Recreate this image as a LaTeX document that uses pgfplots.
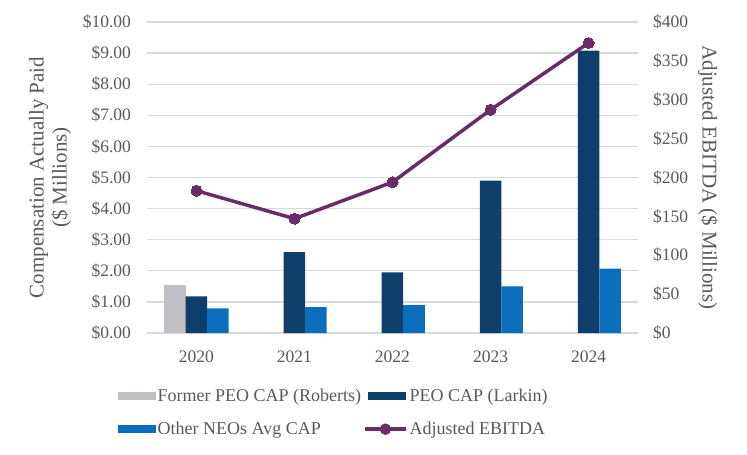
\documentclass[border=0pt]{standalone}
\usepackage{pgfplots}
\pgfplotsset{compat=1.18}
\usepackage{fontspec}
\setmainfont{Liberation Serif}
\definecolor{cgrey}{HTML}{BFBFC4}
\definecolor{cnavy}{HTML}{0E3F6A}
\definecolor{cblue}{HTML}{0A6EBD}
\definecolor{cpurple}{HTML}{6A2C68}
\definecolor{ctext}{HTML}{595959}
\definecolor{cgrid}{HTML}{D9D9D9}
\begin{document}
\begin{tikzpicture}
\path[use as bounding box] (-147.5pt,-122pt) rectangle (599.5pt,333pt);
\pgfplotsset{
  every axis/.append style={
    scale only axis, width=490pt, height=311pt,
    xmin=-0.5, xmax=4.5, at={(0pt,0pt)}, anchor=south west,
    /pgf/number format/assume math mode=true,
    tick label style={font=\rmfamily\fontsize{17.5}{20}\selectfont, text=ctext},
    label style={font=\rmfamily\fontsize{21}{23}\selectfont, text=ctext},
    major tick length=0pt,
  }
}
\begin{axis}[
  ymin=0, ymax=10, ytick={0,1,...,10},
  axis y line*=left, axis x line*=bottom,
  axis line style={draw=none},
  ymajorgrids, grid style={cgrid, line width=1.3pt},
  xtick={0,1,2,3,4}, xticklabels={2020,2021,2022,2023,2024},
  xticklabel style={yshift=-14pt},
  yticklabel={\$\pgfmathprintnumber[fixed,fixed zerofill,precision=2]{\tick}},
  yticklabel style={xshift=-13pt},
  ylabel={Compensation Actually Paid\\(\$ Millions)},
  ylabel style={at={(axis description cs:-0.199,0.5)}, anchor=center, align=center},
  ybar, bar width=21.5pt,
  legend style={at={(-33pt,-52pt)}, anchor=north west, draw=none, fill=none,
    font=\rmfamily\fontsize{18}{21}\selectfont, text=ctext,
    /tikz/every even column/.append style={column sep=0pt},
    row sep=15pt, cells={anchor=west}},
  legend columns=2,
  legend image code/.code={\fill[#1] (0pt,-4pt) rectangle (38pt,4pt);},
]
\addplot[fill=cgrey, draw=none, bar shift=-21.5pt] coordinates {(0,1.53)};
\addlegendentry{Former PEO CAP (Roberts)}
\addplot[fill=cnavy, draw=none, bar shift=0pt] coordinates {(0,1.18) (1,2.60) (2,1.95) (3,4.90) (4,9.08)};
\addlegendentry{PEO CAP (Larkin)}
\addplot[fill=cblue, draw=none, bar shift=21.5pt] coordinates {(0,0.79) (1,0.83) (2,0.90) (3,1.50) (4,2.07)};
\addlegendentry{Other NEOs Avg CAP}
\addlegendimage{legend image code/.code={\draw[cpurple, line width=3.5pt] (-3pt,0pt) -- (38pt,0pt); \fill[cpurple] (17.5pt,0pt) circle (5.5pt);}}
\addlegendentry{Adjusted EBITDA}
\end{axis}
\begin{axis}[
  ymin=0, ymax=400, ytick={0,50,...,400},
  axis y line*=right, axis x line=none,
  axis line style={draw=none},
  xtick=\empty,
  yticklabel={\$\pgfmathprintnumber{\tick}},
  yticklabel style={xshift=12pt},
  ylabel={Adjusted EBITDA (\$ Millions)},
  ylabel style={at={(axis description cs:1.1439,0.5)}, anchor=center, rotate=180},
]
\addplot[cpurple, line width=3.5pt, mark=*, mark size=5.5pt, mark options={fill=cpurple, draw=cpurple, line width=0pt}]
  coordinates {(0,183) (1,147) (2,194) (3,287) (4,373)};
\end{axis}
\end{tikzpicture}
\end{document}
